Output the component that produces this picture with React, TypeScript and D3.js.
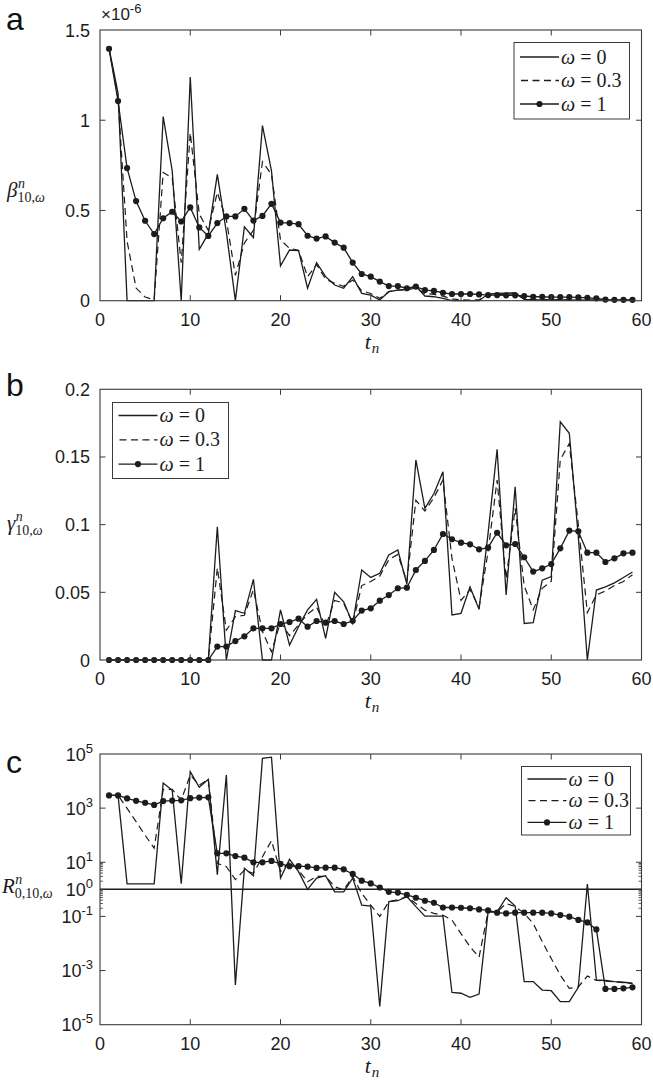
import React, { useEffect, useRef } from 'react'
import * as d3 from 'd3'

// time steps t_n
const tSteps = [1, 2, 3, 4, 5, 6, 7, 8, 9, 10, 11, 12, 13, 14, 15, 16, 17, 18, 19, 20,
  21, 22, 23, 24, 25, 26, 27, 28, 29, 30, 31, 32, 33, 34, 35, 36, 37, 38, 39, 40,
  41, 42, 43, 44, 45, 46, 47, 48, 49, 50, 51, 52, 53, 54, 55, 56, 57, 58, 59]

const omegaLabels = ['0', '0.3', '1']

// panel a: beta (x 1e-6)
const betaW0 = [1.40, 1.15, 0, 0, 0, 0, 1.02, 0.72, 0, 1.24, 0.285, 0.37, 0.70, 0.38, 0, 0.41, 0.35, 0.97, 0.72, 0.193,
  0.281, 0.278, 0.069, 0.211, 0.133, 0.087, 0.069, 0.133, 0.041, 0.031, 0.004, 0.05, 0.059, 0.063, 0.081, 0.026, 0.022, 0.013, 0, 0,
  0, 0, 0.037, 0.04, 0.042, 0.044, 0.007, 0.005, 0.005, 0.004, 0.004, 0.004, 0.003, 0.003, 0.003, 0.002, 0.002, 0.002, 0.002]
const betaW03 = [1.40, 1.12, 0.33, 0.07, 0.02, 0.005, 0.71, 0.68, 0.21, 0.93, 0.48, 0.39, 0.60, 0.45, 0.14, 0.32, 0.39, 0.77, 0.70, 0.337,
  0.29, 0.28, 0.133, 0.2, 0.12, 0.096, 0.08, 0.115, 0.055, 0.04, 0.013, 0.05, 0.059, 0.06, 0.07, 0.04, 0.035, 0.025, 0.01, 0.005,
  0.004, 0.005, 0.03, 0.034, 0.036, 0.038, 0.01, 0.006, 0.005, 0.005, 0.004, 0.004, 0.004, 0.003, 0.003, 0.003, 0.002, 0.002, 0.002]
const betaW1 = [1.396, 1.106, 0.735, 0.552, 0.443, 0.369, 0.457, 0.493, 0.439, 0.517, 0.406, 0.359, 0.43, 0.467, 0.467, 0.509, 0.444, 0.47, 0.537, 0.433,
  0.43, 0.424, 0.36, 0.344, 0.356, 0.322, 0.294, 0.211, 0.148, 0.133, 0.106, 0.081, 0.081, 0.069, 0.078, 0.059, 0.054, 0.044, 0.037, 0.037,
  0.037, 0.035, 0.031, 0.031, 0.03, 0.03, 0.026, 0.022, 0.022, 0.02, 0.02, 0.02, 0.018, 0.016, 0.013, 0.006, 0.005, 0.005, 0.005]
const betaTicks = [0, 0.5, 1, 1.5]

// panel b: gamma
const gammaW0 = [0, 0, 0, 0, 0, 0, 0, 0, 0, 0, 0, 0, 0.0985, 0, 0.0365, 0.0345, 0.0596, 0, 0, 0.037,
  0.011, 0.0246, 0.037, 0.0448, 0.016, 0.05, 0.043, 0.027, 0.0665, 0.061, 0.064, 0.0776, 0.0813, 0.056, 0.1478, 0.112, 0.123, 0.139, 0.0333, 0.0345,
  0.054, 0.0374, 0.0936, 0.1557, 0.048, 0.128, 0.027, 0.0276, 0.059, 0.0616, 0.176, 0.1675, 0.091, 0, 0.0517, 0.054, 0.057, 0.061, 0.065]
const gammaW03 = [0, 0, 0, 0, 0, 0, 0, 0, 0, 0, 0, 0, 0.068, 0.022, 0.032, 0.033, 0.052, 0.021, 0.006, 0.028,
  0.018, 0.026, 0.034, 0.039, 0.025, 0.044, 0.042, 0.027, 0.055, 0.058, 0.062, 0.074, 0.078, 0.058, 0.118, 0.11, 0.12, 0.133, 0.075, 0.044,
  0.052, 0.039, 0.08, 0.133, 0.06, 0.112, 0.055, 0.037, 0.053, 0.058, 0.148, 0.16, 0.1, 0.035, 0.048, 0.051, 0.055, 0.058, 0.063]
const gammaW1 = [0, 0, 0, 0, 0, 0, 0, 0, 0, 0, 0, 0, 0.0099, 0.0099, 0.014, 0.0175, 0.0234, 0.0234, 0.0234, 0.0266,
  0.028, 0.0305, 0.0246, 0.0288, 0.0276, 0.0288, 0.0266, 0.029, 0.0365, 0.0382, 0.0438, 0.048, 0.053, 0.0534, 0.0665, 0.0732, 0.0813, 0.0931, 0.0892, 0.0867,
  0.0855, 0.0818, 0.083, 0.094, 0.0847, 0.0857, 0.0759, 0.0653, 0.0677, 0.0709, 0.0825, 0.0956, 0.0951, 0.0793, 0.0793, 0.0724, 0.0751, 0.0788, 0.0793]
const gammaTicks = [0, 0.05, 0.1, 0.15, 0.2]

// panel c: R0 (log scale)
const rW0 = [2950, 2950, 1.6, 1.6, 1.6, 1.6, 8500, 4570, 1.62, 22400, 5900, 11700, 3.5, 16600, 2.95e-4, 6.0, 3.2, 69000, 76000, 2.6,
  12.9, 4.5, 1.0, 2.6, 3.2, 0.81, 0.81, 2.6, 0.26, 0.24, 4.7e-5, 0.35, 0.38, 0.54, 0.23, 0.102, 0.102, 0.102, 1.55e-4, 1.45e-4,
  1.02e-4, 1.35e-4, 0.148, 0.148, 0.49, 0.24, 3.9e-4, 3.9e-4, 1.9e-4, 1.8e-4, 7.1e-5, 7.1e-5, 2.4e-4, 1.58, 4.5e-4, 4.3e-4, 3.9e-4, 3.7e-4, 3.4e-4]
const rW03 = [2950, 2950, 980, 316, 100, 33, 4900, 4900, 2000, 16600, 7080, 11500, 9.1, 6.9, 2.3, 5.1, 3.9, 16, 63, 4.5,
  10.5, 5.1, 1.9, 3.0, 3.0, 1.26, 0.95, 3.0, 0.71, 0.26, 0.1, 0.35, 0.41, 0.54, 0.3, 0.17, 0.13, 0.11, 0.074, 0.023,
  7.6e-3, 3.1e-3, 0.148, 0.148, 0.3, 0.23, 0.13, 0.055, 0.0117, 2.8e-3, 6.8e-4, 2.2e-4, 2.5e-4, 6.3e-4, 4.3e-4, 4.1e-4, 3.8e-4, 3.6e-4, 3.3e-4]
const rW1 = [2950, 2950, 2290, 1860, 1580, 1320, 1820, 1900, 1950, 2340, 2450, 2510, 21.4, 21.4, 17.0, 14.8, 10.0, 10.0, 11.2, 8.7,
  7.2, 7.2, 6.9, 6.2, 6.3, 6.3, 5.5, 3.7, 2.1, 1.66, 1.17, 0.81, 0.76, 0.62, 0.49, 0.38, 0.32, 0.214, 0.214, 0.209,
  0.2, 0.182, 0.166, 0.138, 0.129, 0.138, 0.138, 0.138, 0.138, 0.129, 0.112, 0.098, 0.074, 0.060, 0.033, 2.1e-4, 2.1e-4, 2.2e-4, 2.4e-4]
const rTickExps = [5, 3, 1, 0, -1, -3, -5]

const xTicks = [0, 10, 20, 30, 40, 50, 60]

const SANS = 'Liberation Sans, Arial, Helvetica, sans-serif'
const SERIF = 'Liberation Serif, Times New Roman, serif'
const INK = '#1c1c1c'
const FRAME = '#3a3a3a'

const App = () => {
  const ref = useRef<SVGSVGElement>(null)

  useEffect(() => {
    const svg = d3.select(ref.current)
    svg.selectAll('*').remove()

    const left = 100
    const right = 641.5
    const x = d3.scaleLinear().domain([0, 60]).range([left, right])

    const mathLabel = (g: any, px: number, py: number, base: string, sup: string, sub: string) => {
      const t = g.append('text').attr('x', px).attr('y', py)
        .attr('font-family', SERIF).attr('font-style', 'italic').attr('font-size', 21).attr('fill', INK)
        .text(base)
      const w = (t.node() as SVGTextElement).getComputedTextLength()
      g.append('text').attr('x', px + w + 0.5).attr('y', py - 9)
        .attr('font-family', SERIF).attr('font-style', 'italic').attr('font-size', 14).attr('fill', INK)
        .text(sup)
      const s = g.append('text').attr('x', px + w).attr('y', py + 5)
        .attr('font-family', SERIF).attr('font-size', 14).attr('fill', INK)
      sub.split('').forEach((ch) => {
        s.append('tspan').attr('font-style', ch === 'ω' ? 'italic' : 'normal').text(ch)
      })
    }

    const drawPanel = (cfg: any) => {
      const { top, bottom, y, series, letter, letterY, legend, yLabel } = cfg
      const g = svg.append('g')

      // lines
      const line = d3.line<number>().x((_, i) => x(tSteps[i])).y((d) => y(d))
      g.append('path').datum(series[0]).attr('d', line).attr('fill', 'none')
        .attr('stroke', INK).attr('stroke-width', 1.3).attr('stroke-linejoin', 'miter')
      g.append('path').datum(series[1]).attr('d', line).attr('fill', 'none')
        .attr('stroke', INK).attr('stroke-width', 1.2).attr('stroke-dasharray', '7,4.5')
      g.append('path').datum(series[2]).attr('d', line).attr('fill', 'none')
        .attr('stroke', INK).attr('stroke-width', 1.3)
      g.selectAll('circle.pt').data(series[2]).enter().append('circle')
        .attr('cx', (_: any, i: number) => x(tSteps[i])).attr('cy', (d: number) => y(d))
        .attr('r', 3.1).attr('fill', INK)

      if (cfg.refLine !== undefined) {
        g.append('line').attr('x1', left).attr('x2', right)
          .attr('y1', y(cfg.refLine)).attr('y2', y(cfg.refLine))
          .attr('stroke', INK).attr('stroke-width', 1.5)
      }

      // frame
      g.append('rect').attr('x', left).attr('y', top).attr('width', right - left).attr('height', bottom - top)
        .attr('fill', 'none').attr('stroke', FRAME).attr('stroke-width', 1.1)

      // x ticks
      xTicks.forEach((v) => {
        const px = x(v)
        if (v > 0 && v < 60) {
          g.append('line').attr('x1', px).attr('x2', px).attr('y1', bottom).attr('y2', bottom - 5.5).attr('stroke', FRAME)
          g.append('line').attr('x1', px).attr('x2', px).attr('y1', top).attr('y2', top + 5.5).attr('stroke', FRAME)
        }
        g.append('text').attr('x', px).attr('y', bottom + 25).attr('text-anchor', 'middle')
          .attr('font-family', SANS).attr('font-size', 18).attr('fill', INK).text(String(v))
      })

      // y ticks
      cfg.yTicks.forEach((v: number, i: number) => {
        const py = y(v)
        if (py > top + 1 && py < bottom - 1) {
          g.append('line').attr('x1', left).attr('x2', left + 5.5).attr('y1', py).attr('y2', py).attr('stroke', FRAME)
          g.append('line').attr('x1', right).attr('x2', right - 5.5).attr('y1', py).attr('y2', py).attr('stroke', FRAME)
        }
        cfg.yTickLabel(g, v, py, i)
      })
      if (cfg.minorTicks) {
        cfg.minorTicks.forEach((v: number) => {
          const py = y(v)
          g.append('line').attr('x1', left).attr('x2', left + 3).attr('y1', py).attr('y2', py).attr('stroke', FRAME).attr('stroke-width', 0.8)
          g.append('line').attr('x1', right).attr('x2', right - 3).attr('y1', py).attr('y2', py).attr('stroke', FRAME).attr('stroke-width', 0.8)
        })
      }

      // panel letter
      g.append('text').attr('x', 6).attr('y', letterY).attr('font-family', SANS).attr('font-size', 32)
        .attr('fill', '#111').text(letter)

      // x label t_n
      const tx = (left + right) / 2 - 6
      g.append('text').attr('x', tx).attr('y', bottom + 48).attr('font-family', SERIF).attr('font-style', 'italic')
        .attr('font-size', 22).attr('fill', INK).text('t')
      g.append('text').attr('x', tx + 7).attr('y', bottom + 52).attr('font-family', SERIF).attr('font-style', 'italic')
        .attr('font-size', 15).attr('fill', INK).text('n')

      // y label
      mathLabel(g, yLabel.x, yLabel.y, yLabel.base, 'n', yLabel.sub)

      // legend
      const lg = g.append('g')
      lg.append('rect').attr('x', legend.x).attr('y', legend.y).attr('width', legend.w).attr('height', legend.h)
        .attr('fill', '#fff').attr('stroke', FRAME).attr('stroke-width', 1)
      omegaLabels.forEach((lab, i) => {
        const ry = legend.y + legend.first + i * legend.step
        const x1 = legend.x + 6
        const x2 = legend.x + 45
        const l = lg.append('line').attr('x1', x1).attr('x2', x2).attr('y1', ry).attr('y2', ry)
          .attr('stroke', INK).attr('stroke-width', 1.3)
        if (i === 1) l.attr('stroke-dasharray', '7,4.5').attr('x1', x1 + 1)
        if (i === 2) lg.append('circle').attr('cx', (x1 + x2) / 2).attr('cy', ry).attr('r', 3.1).attr('fill', INK)
        const t = lg.append('text').attr('x', x2 + 2).attr('y', ry + 6.5).attr('font-family', SERIF)
          .attr('font-size', 20).attr('fill', INK)
        t.append('tspan').attr('font-style', 'italic').text('ω')
        t.append('tspan').text(' = ' + lab)
      })
      return g
    }

    const linTickLabel = (g: any, v: number, py: number) => {
      g.append('text').attr('x', 90).attr('y', py + 6.5).attr('text-anchor', 'end')
        .attr('font-family', SANS).attr('font-size', 18).attr('fill', INK).text(String(v))
    }

    // panel a
    const yA = d3.scaleLinear().domain([0, 1.5]).range([300.7, 30])
    const gA = drawPanel({
      top: 30, bottom: 300.7, y: yA, series: [betaW0, betaW03, betaW1], letter: 'a', letterY: 30,
      yTicks: betaTicks, yTickLabel: linTickLabel,
      legend: { x: 514, y: 42.5, w: 115.5, h: 76.5, first: 14.5, step: 23.5 },
      yLabel: { x: 7, y: 197, base: 'β', sub: '10,ω' },
    })
    const mult = gA.append('text').attr('x', 101).attr('y', 20).attr('font-family', SANS).attr('font-size', 17).attr('fill', INK)
    mult.append('tspan').text('×10')
    mult.append('tspan').attr('dy', -7).attr('font-size', 13).text('-6')

    // panel b
    const yB = d3.scaleLinear().domain([0, 0.2]).range([660, 389.3])
    drawPanel({
      top: 389.3, bottom: 660, y: yB, series: [gammaW0, gammaW03, gammaW1], letter: 'b', letterY: 396,
      yTicks: gammaTicks, yTickLabel: linTickLabel,
      legend: { x: 112.5, y: 402.5, w: 116, h: 76, first: 13, step: 24.3 },
      yLabel: { x: 7, y: 530, base: 'γ', sub: '10,ω' },
    })

    // panel c
    const yC = d3.scaleLog().domain([1e-5, 1e5]).range([1024.7, 754])
    const minor: number[] = []
    ;[-1, 0].forEach((k) => {
      for (let m = 2; m <= 9; m++) minor.push(m * Math.pow(10, k))
    })
    drawPanel({
      top: 754, bottom: 1024.7, y: yC, series: [rW0, rW03, rW1], letter: 'c', letterY: 773,
      yTicks: rTickExps.map((e) => Math.pow(10, e)), minorTicks: minor, refLine: 1,
      yTickLabel: (g: any, v: number, py: number, i: number) => {
        const t = g.append('text').attr('x', 93).attr('y', py + 6.5).attr('text-anchor', 'end')
          .attr('font-family', SANS).attr('font-size', 18).attr('fill', INK)
        t.append('tspan').text('10')
        t.append('tspan').attr('dy', -8).attr('font-size', 13).text(String(rTickExps[i]))
      },
      legend: { x: 521.5, y: 766.5, w: 109, h: 68.5, first: 12.5, step: 21.7 },
      yLabel: { x: 2, y: 893, base: 'R', sub: '0,10,ω' },
    })
  })

  return (
    <div style={{ position: 'absolute', left: 0, top: 0 }}>
      <svg ref={ref} width={653} height={1082} style={{ display: 'block', background: '#fff' }}></svg>
    </div>
  )
}

export default App
